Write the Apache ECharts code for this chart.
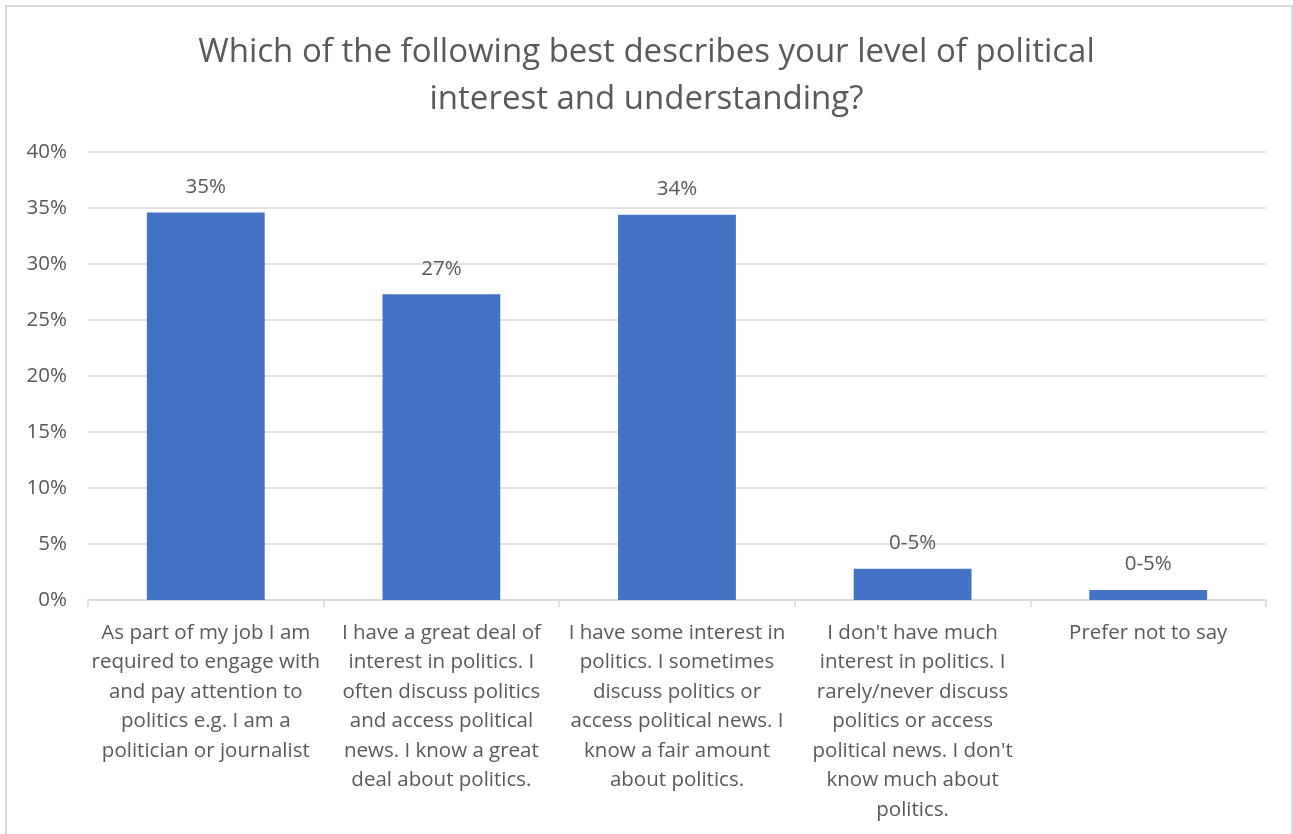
<!DOCTYPE html>
<html>
<head>
<meta charset="utf-8">
<script src="https://cdn.jsdelivr.net/npm/echarts@6/dist/echarts.min.js"></script>
<style>
html,body{margin:0;padding:0;background:#fff;}
#chart{width:1293px;height:834px;}
</style>
</head>
<body>
<div id="chart"></div>
<script>
const titleText = 'Which of the following best describes your level of political\ninterest and understanding?';
const categories = [
  'As part of my job I am\nrequired to engage with\nand pay attention to\npolitics e.g. I am a\npolitician or journalist',
  'I have a great deal of\ninterest in politics. I\noften discuss politics\nand access political\nnews. I know a great\ndeal about politics.',
  'I have some interest in\npolitics. I sometimes\ndiscuss politics or\naccess political news. I\nknow a fair amount\nabout politics.',
  "I don't have much\ninterest in politics. I\nrarely/never discuss\npolitics or access\npolitical news. I don't\nknow much about\npolitics.",
  'Prefer not to say'
];
const values = [34.6, 27.3, 34.4, 2.8, 0.9];
const valueLabels = ['35%', '27%', '34%', '0-5%', '0-5%'];
const yTicks = { min: 0, max: 40, interval: 5 };

const chart = echarts.init(document.getElementById('chart'));
const FONT = '"Open Sans"';
chart.setOption({
  animation: false,
  backgroundColor: '#fff',
  graphic: [{
    type: 'rect',
    shape: { x: 6, y: 6, width: 1286, height: 840 },
    style: { fill: 'none', stroke: '#d9d9d9', lineWidth: 2 },
    silent: true
  }],
  title: {
    text: titleText,
    left: 'center',
    top: 24,
    textStyle: { fontFamily: FONT, fontSize: 33, fontWeight: 'normal', color: '#595959', lineHeight: 47 }
  },
  grid: { left: 88, right: 27, top: 152, bottom: 234, containLabel: false },
  xAxis: {
    type: 'category',
    data: categories,
    axisLine: { lineStyle: { color: '#d9d9d9', width: 1.5 } },
    axisTick: { show: true, length: 7, lineStyle: { color: '#d9d9d9', width: 1.5 } },
    axisLabel: { interval: 0, color: '#595959', fontFamily: FONT, fontSize: 20.5, lineHeight: 29.5, margin: 18 }
  },
  yAxis: {
    type: 'value',
    min: yTicks.min, max: yTicks.max, interval: yTicks.interval,
    axisLine: { show: false },
    axisTick: { show: false },
    splitLine: { lineStyle: { color: '#d9d9d9', width: 1.5 } },
    axisLabel: { formatter: '{value}%', color: '#595959', fontFamily: FONT, fontSize: 20.5, margin: 21 }
  },
  series: [{
    type: 'bar',
    data: values,
    barWidth: '50%',
    itemStyle: { color: '#4472C4' },
    label: {
      show: true,
      position: 'top',
      distance: 15,
      color: '#595959',
      fontFamily: FONT,
      fontSize: 20.5,
      formatter: p => valueLabels[p.dataIndex]
    }
  }]
});
</script>
</body>
</html>
